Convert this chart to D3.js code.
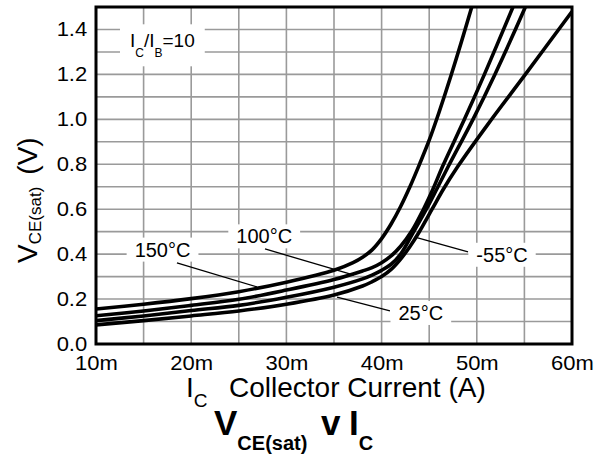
<!DOCTYPE html>
<html>
<head>
<meta charset="utf-8">
<script src="https://cdn.jsdelivr.net/npm/d3@7"></script>
<style>
  html, body { margin: 0; padding: 0; background: #fff; }
  svg { display: block; font-family: "Liberation Sans", Arial, sans-serif; }
</style>
</head>
<body>
<svg id="chart" width="604" height="455"></svg>
<script>
// ---------- data ----------
const xTicks = [10, 20, 30, 40, 50, 60];
const xTickLabels = ["10m", "20m", "30m", "40m", "50m", "60m"];
const yTicks = [0, 0.2, 0.4, 0.6, 0.8, 1.0, 1.2, 1.4];
const yTickLabels = ["0.0", "0.2", "0.4", "0.6", "0.8", "1.0", "1.2", "1.4"];
const xGrid = [15, 20, 25, 30, 35, 40, 45, 50, 55];
const yGrid = [0.1, 0.2, 0.3, 0.4, 0.5, 0.6, 0.7, 0.8, 0.9, 1.0, 1.1, 1.2, 1.3, 1.4];

const seriesNames = ["150°C", "100°C", "25°C", "-55°C"];
const curve150 = [[10,0.156],[15,0.177],[20,0.202],[25,0.233],[30,0.275],[35,0.328],[37,0.362],[38,0.386],[39,0.419],[40,0.469],[41,0.534],[42,0.612],[43,0.702],[44,0.802],[45,0.907],[46,1.027],[47.3,1.196],[49.4,1.49],[50,1.58]];
const curve100 = [[10,0.126],[15,0.147],[20,0.172],[25,0.199],[30,0.24],[35,0.287],[38,0.325],[39,0.34],[40,0.362],[41,0.392],[42,0.435],[43.2,0.505],[44.4,0.6],[45.4,0.69],[46.4,0.79],[48.7,1.0],[50.8,1.2],[53.8,1.5],[54.5,1.57]];
const curve25  = [[10,0.104],[15,0.125],[20,0.149],[25,0.172],[30,0.208],[35,0.253],[38,0.29],[39,0.307],[40,0.328],[41,0.355],[42,0.4],[43.3,0.495],[44.7,0.6],[45.8,0.69],[47.0,0.79],[49.6,1.0],[51.9,1.2],[55.1,1.5],[55.8,1.57]];
const curveM55 = [[10,0.085],[15,0.104],[20,0.125],[25,0.147],[30,0.177],[35,0.218],[38,0.258],[39,0.277],[40,0.3],[41,0.332],[42,0.378],[43,0.435],[43.9,0.495],[45.3,0.6],[46.5,0.69],[48.0,0.79],[51.2,0.98],[55.1,1.2],[60,1.48]];
const seriesValues = [curve150, curve100, curve25, curveM55];

// annotation labels: text, anchor point (I, V), pointer from -> to (I, V)
const labelTexts = ["150°C", "100°C", "25°C", "-55°C"];
const labelAnchors = [[16.99, 0.389], [27.67, 0.448], [44.12, 0.107], [52.65, 0.366]];
const pointerFrom = [[18.5, 0.361], [27.75, 0.423], [40.88, 0.147], [49.08, 0.41]];
const pointerTo = [[26.9, 0.254], [37.1, 0.307], [35.32, 0.209], [43.51, 0.476]];
const ratioAnchor = [13.57, 1.3206];

// ---------- layout ----------
const svg = d3.select("#chart");
const L = 96, R = 572, T = 7, B = 344;
const x = d3.scaleLinear().domain([10, 60]).range([L, R]);
const y = d3.scaleLinear().domain([0, 1.5]).range([B, T]);

// grid
const grid = svg.append("g").attr("stroke", "#9a9a9a").attr("stroke-width", 1.6);
grid.selectAll("line.gx").data(xGrid).join("line")
  .attr("x1", d => x(d)).attr("x2", d => x(d)).attr("y1", T).attr("y2", B);
grid.selectAll("line.gy").data(yGrid).join("line")
  .attr("y1", d => y(d)).attr("y2", d => y(d)).attr("x1", L).attr("x2", R);

// annotation boxes (white knock-outs) + text
const boxG = svg.append("g");
const annG = svg.append("g");

function addBox(textSel, padX, padY) {
  const bb = textSel.node().getBBox();
  boxG.append("rect")
    .attr("x", bb.x - padX).attr("y", bb.y - padY)
    .attr("width", bb.width + 2 * padX).attr("height", bb.height + 2 * padY)
    .attr("fill", "#fff");
}

labelTexts.forEach((t, i) => {
  const tx = annG.append("text")
    .attr("x", x(labelAnchors[i][0])).attr("y", y(labelAnchors[i][1]))
    .attr("text-anchor", "middle").attr("font-size", 20).attr("fill", "#000")
    .text(t);
  addBox(tx, 8, 1);
  annG.append("line")
    .attr("x1", x(pointerFrom[i][0])).attr("y1", y(pointerFrom[i][1]))
    .attr("x2", x(pointerTo[i][0])).attr("y2", y(pointerTo[i][1]))
    .attr("stroke", "#000").attr("stroke-width", 1.3);
});

// Ic/Ib = 10
const ratio = annG.append("text")
  .attr("x", x(ratioAnchor[0])).attr("y", y(ratioAnchor[1]))
  .attr("font-size", 19).attr("fill", "#000");
ratio.append("tspan").text("I");
ratio.append("tspan").attr("font-size", 12).attr("dy", 10).text("C");
ratio.append("tspan").attr("dy", -10).text("/I");
ratio.append("tspan").attr("font-size", 12).attr("dy", 10).text("B");
ratio.append("tspan").attr("dy", -10).text("=10");
addBox(ratio, 10, 6);

// curves
svg.append("clipPath").attr("id", "plotclip").append("rect")
  .attr("x", L).attr("y", T).attr("width", R - L).attr("height", B - T);
const line = d3.line().x(d => x(d[0])).y(d => y(d[1])).curve(d3.curveCatmullRom.alpha(0.5));
svg.append("g").attr("clip-path", "url(#plotclip)")
  .selectAll("path").data(seriesValues).join("path")
  .attr("d", line).attr("fill", "none").attr("stroke", "#000")
  .attr("stroke-width", 3.6).attr("stroke-linejoin", "round");

// frame
svg.append("rect").attr("x", L).attr("y", T).attr("width", R - L).attr("height", B - T)
  .attr("fill", "none").attr("stroke", "#000").attr("stroke-width", 3);

// axes (labels only)
const xAxis = d3.axisBottom(x).tickValues(xTicks).tickSize(0).tickPadding(12)
  .tickFormat((d, i) => xTickLabels[i]);
const gx = svg.append("g").attr("transform", `translate(0,${B})`).call(xAxis);
const yAxis = d3.axisLeft(y).tickValues(yTicks).tickSize(0).tickPadding(8)
  .tickFormat((d, i) => yTickLabels[i]);
const gy = svg.append("g").attr("transform", `translate(${L},0)`).call(yAxis);
[gx, gy].forEach(g => {
  g.select(".domain").remove();
  g.selectAll("text").attr("font-size", 20).attr("fill", "#000")
    .attr("font-family", "Liberation Sans, Arial, sans-serif")
    .attr("transform", "scale(1.1,1)");
});

// x-axis title
const xt = svg.append("text").attr("x", 186).attr("y", 397).attr("font-size", 28).attr("fill", "#000");
xt.append("tspan").text("I");
xt.append("tspan").attr("font-size", 19).attr("dy", 10).text("C");
xt.append("tspan").attr("x", 229).attr("dy", -10).text("Collector Current (A)");

// y-axis title
const yt = svg.append("text").attr("transform", "translate(37,263) rotate(-90)")
  .attr("font-size", 28).attr("fill", "#000");
yt.append("tspan").text("V");
yt.append("tspan").attr("font-size", 17).attr("dy", 4).text("CE(sat)");
yt.append("tspan").attr("dy", -4).attr("dx", 12).text("(V)");

// title
const title = svg.append("text").attr("x", 214).attr("y", 435)
  .attr("font-size", 35).attr("font-weight", "bold").attr("fill", "#000");
title.append("tspan").text("V");
title.append("tspan").attr("font-size", 20).attr("dy", 15).text("CE(sat)");
title.append("tspan").attr("dy", -15).attr("x", 321).text("v");
title.append("tspan").attr("x", 349).text("I");
title.append("tspan").attr("font-size", 20).attr("dy", 15).text("C");
</script>
</body>
</html>
